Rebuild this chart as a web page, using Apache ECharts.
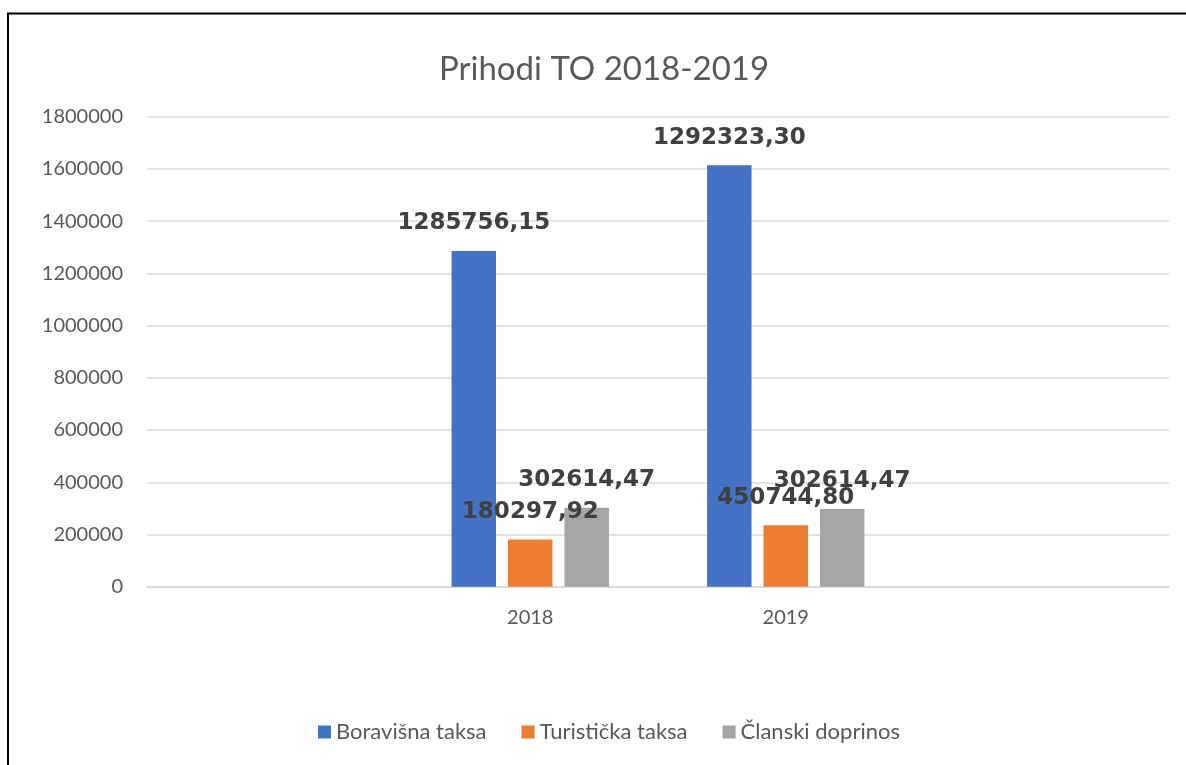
<!DOCTYPE html>
<html>
<head>
<meta charset="utf-8">
<script src="https://cdn.jsdelivr.net/npm/echarts@6/dist/echarts.min.js"></script>
<style>
html,body{margin:0;padding:0;background:#fff;}
#chart{width:1186px;height:765px;}
</style>
</head>
<body>
<div id="chart"></div>
<script>
// ---- data ----
const categories = ['', '2018', '2019', ''];
const seriesNames = ['Boravišna taksa', 'Turistička taksa', 'Članski doprinos'];
const boravisna = [null, 1285756, 1614000, null];
const turisticka = [null, 180298, 235000, null];
const clanski = [null, 302614, 297600, null];
const boravisnaLabels = ['', '1285756,15', '1292323,30', ''];
const turistickaLabels = ['', '180297,92', '450744,80', ''];
const clanskiLabels = ['', '302614,47', '302614,47', ''];
const yTicks = { min: 0, max: 1800000, interval: 200000 };
const colors = ['#4472C4', '#ED7D31', '#A5A5A5'];

const chart = echarts.init(document.getElementById('chart'), null, { renderer: 'canvas' });

function mkSeries(name, data, labels, color) {
  return {
    name: name,
    type: 'bar',
    data: data,
    barWidth: '17.4%',
    barGap: '27%',
    itemStyle: { color: color },
    label: {
      show: true,
      position: 'top',
      distance: 16,
      fontFamily: 'DejaVu Sans',
      fontWeight: 'bold',
      fontSize: 23,
      color: '#404040',
      formatter: p => labels[p.dataIndex]
    }
  };
}

chart.setOption({
  animation: false,
  backgroundColor: '#ffffff',
  color: colors,
  title: {
    text: 'Prihodi TO 2018-2019',
    left: 434,
    top: 48,
    textStyle: { fontFamily: 'Lato', fontWeight: 'normal', fontSize: 33, color: '#595959' }
  },
  legend: {
    data: seriesNames,
    left: 313,
    top: 716,
    itemWidth: 13,
    itemHeight: 13,
    itemGap: 35,
    icon: 'rect',
    textStyle: { fontFamily: 'Lato', fontSize: 22, color: '#595959' }
  },
  grid: { left: 147, right: 17, top: 116.7, bottom: 178.3, containLabel: false },
  xAxis: {
    type: 'category',
    data: categories,
    axisTick: { show: false },
    axisLine: { lineStyle: { color: '#d9d9d9', width: 1.5 } },
    axisLabel: { fontFamily: 'Lato', fontSize: 20, color: '#595959', margin: 21, interval: 0 }
  },
  yAxis: {
    type: 'value',
    min: yTicks.min,
    max: yTicks.max,
    interval: yTicks.interval,
    axisLine: { show: false },
    axisTick: { show: false },
    splitLine: { lineStyle: { color: '#d9d9d9', width: 1.5 } },
    axisLabel: { fontFamily: 'Lato', fontSize: 20, color: '#595959', margin: 24, formatter: v => String(v) }
  },
  graphic: [
    { type: 'line', shape: { x1: 7, y1: 13.5, x2: 1186, y2: 13.5 }, style: { stroke: '#000', lineWidth: 2 } },
    { type: 'line', shape: { x1: 8, y1: 13, x2: 8, y2: 765 }, style: { stroke: '#000', lineWidth: 2 } }
  ],
  series: [
    mkSeries(seriesNames[0], boravisna, boravisnaLabels, colors[0]),
    mkSeries(seriesNames[1], turisticka, turistickaLabels, colors[1]),
    mkSeries(seriesNames[2], clanski, clanskiLabels, colors[2])
  ]
});
</script>
</body>
</html>
